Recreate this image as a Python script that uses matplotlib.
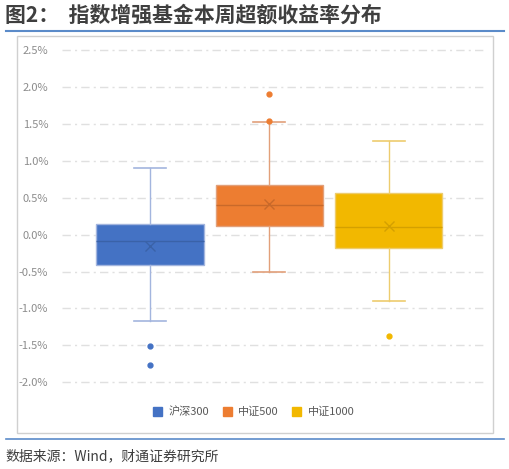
import matplotlib.pyplot as plt
from matplotlib.patches import Patch, Rectangle
from matplotlib.lines import Line2D
from matplotlib.ticker import FuncFormatter

plt.rcParams['font.family'] = ['Noto Sans CJK SC', 'DejaVu Sans']

# 数据（单位：%）
names = ['沪深300', '中证500', '中证1000']
q1 = [-0.41, 0.11, -0.18]
q3 = [0.14, 0.67, 0.57]
med = [-0.08, 0.40, 0.10]
mean = [-0.15, 0.42, 0.11]
whislo = [-1.17, -0.50, -0.90]
whishi = [0.90, 1.52, 1.27]
fliers = [[-1.51, -1.77], [1.54, 1.90], [-1.37]]

colors = ['#4472C4', '#ED7D31', '#F2B800']
light = ['#A3B5DE', '#E2A07A', '#EDCC6E']
dark = ['#3A62A8', '#C9692A', '#D4A000']

fig = plt.figure(figsize=(5.10, 4.69), dpi=100)
ax = fig.add_axes([62/510, 1-382.3/469, (483-62)/510, (382.3-50)/469])

stats = []
for i in range(3):
    stats.append(dict(label=names[i], q1=q1[i], q3=q3[i], med=med[i], mean=mean[i],
                      whislo=whislo[i], whishi=whishi[i], fliers=fliers[i]))

bp = ax.bxp(stats, positions=[1, 2, 3], widths=0.9, capwidths=0.27,
            showmeans=True, patch_artist=True, zorder=3)

for i in range(3):
    bp['boxes'][i].set(facecolor=colors[i], edgecolor=light[i], linewidth=1)
    bp['medians'][i].set(color=dark[i], linewidth=1)
    bp['means'][i].set(marker='x', markeredgecolor=dark[i], markersize=7, markeredgewidth=1)
    bp['fliers'][i].set(marker='o', markerfacecolor=colors[i], markeredgecolor=colors[i],
                        markersize=3.5)
    for w in bp['whiskers'][2*i:2*i+2]:
        w.set(color=light[i], linewidth=1)
    for c in bp['caps'][2*i:2*i+2]:
        c.set(color=light[i], linewidth=1.2)

ax.set_xlim(0.264, 3.79)
ax.set_ylim(-2.0, 2.5)
ax.set_yticks([-2.0, -1.5, -1.0, -0.5, 0.0, 0.5, 1.0, 1.5, 2.0, 2.5])
ax.yaxis.set_major_formatter(FuncFormatter(lambda v, p: f'{v:.1f}%'))
ax.set_xticks([])
ax.tick_params(axis='y', length=0, labelsize=8, labelcolor='#8C8C8C', pad=10)
for s in ax.spines.values():
    s.set_visible(False)
ax.grid(axis='y', color='#E0E0E0', linestyle=(0, (6, 3, 1.5, 3)), linewidth=1, zorder=0)
ax.set_axisbelow(True)
for gl in ax.get_ygridlines():
    gl.set_clip_on(False)

# 图框与装饰线
fig.patches.append(Rectangle((17/510, 1-433/469), (493-17)/510, (433-36)/469,
                             transform=fig.transFigure, fill=False,
                             edgecolor='#D0D0D0', linewidth=1))
fig.add_artist(Line2D([6/510, 504/510], [1-31.5/469, 1-31.5/469],
                      color='#5B8BC9', linewidth=1.5))
fig.add_artist(Line2D([6/510, 504/510], [1-439/469, 1-439/469],
                      color='#5B8BC9', linewidth=1.2))

fig.text(5/510, 1-15/469, '图2：  指数增强基金本周超额收益率分布', fontsize=15,
         fontweight='bold', color='#3F3F3F', va='center', ha='left')
fig.text(5/510, 1-456/469, '数据来源：Wind，财通证券研究所', fontsize=10,
         color='#3F3F3F', va='center', ha='left')

handles = [Patch(facecolor=c, edgecolor=c) for c in colors]
fig.legend(handles, names, loc='center', bbox_to_anchor=(254/510, 1-412/469), ncol=3,
           frameon=False, fontsize=8, handlelength=0.8, handleheight=0.8,
           handletextpad=0.6, columnspacing=1.2, labelcolor='#595959')

fig.savefig('out.png', dpi=100)
